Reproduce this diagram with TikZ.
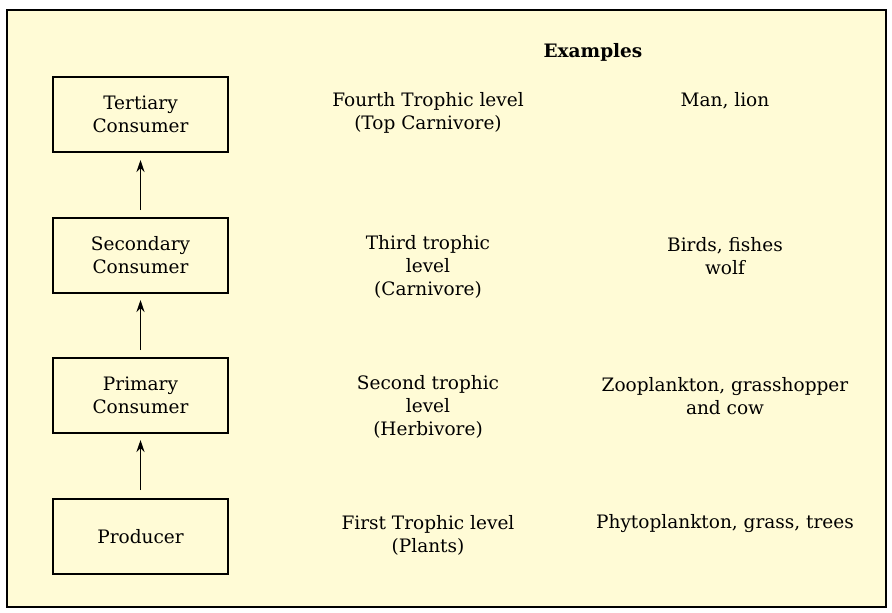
\documentclass[tikz,border=0pt]{standalone}
\usepackage{fontspec}
\setmainfont{DejaVu Serif}
\usetikzlibrary{arrows.meta}
\begin{document}
\begin{tikzpicture}[x=1pt,y=-1pt,
  box/.style={draw,line width=1.4pt,minimum width=175pt,minimum height=75pt,align=center,font=\fontsize{18.5}{23}\selectfont},
  lbl/.style={align=center,font=\fontsize{18.5}{23}\selectfont},
  arr/.style={-{Stealth[length=12pt,width=8pt]},line width=1.6pt}]
\useasboundingbox (0,0) rectangle (892,613);
\draw[line width=1.4pt,fill={rgb,255:red,255;green,251;blue,214}] (7,10) rectangle (886,607);
\node[font=\bfseries\fontsize{18.5}{22}\selectfont] (ex) at (593,52) {Examples};
\node[box] (t) at (140.5,114.5) {Tertiary\\Consumer};
\node[box] (s) at (140.5,255.5) {Secondary\\Consumer};
\node[box] (p) at (140.5,395.5) {Primary\\Consumer};
\node[box] (r) at (140.5,536.5) {Producer};
\coordinate (a1) at (140.5,210); \coordinate (b1) at (140.5,160);
\coordinate (a2) at (140.5,350); \coordinate (b2) at (140.5,300);
\coordinate (a3) at (140.5,490); \coordinate (b3) at (140.5,440);
\draw[arr] (a1) -- (b1);
\draw[arr] (a2) -- (b2);
\draw[arr] (a3) -- (b3);
\node[lbl] (l4) at (428,113) {Fourth Trophic level\\(Top Carnivore)};
\node[lbl] (l3) at (428,267) {Third trophic\\level\\(Carnivore)};
\node[lbl] (l2) at (428,407) {Second trophic\\level\\(Herbivore)};
\node[lbl] (l1) at (428,535) {First Trophic level\\(Plants)};
\node[lbl] (e4) at (725,101) {Man, lion};
\node[lbl] (e3) at (725,256) {Birds, fishes\\wolf};
\node[lbl] (e2) at (725,396) {Zooplankton, grasshopper\\and cow};
\node[lbl] (e1) at (725,524) {Phytoplankton, grass, trees};
\end{tikzpicture}
\end{document}
